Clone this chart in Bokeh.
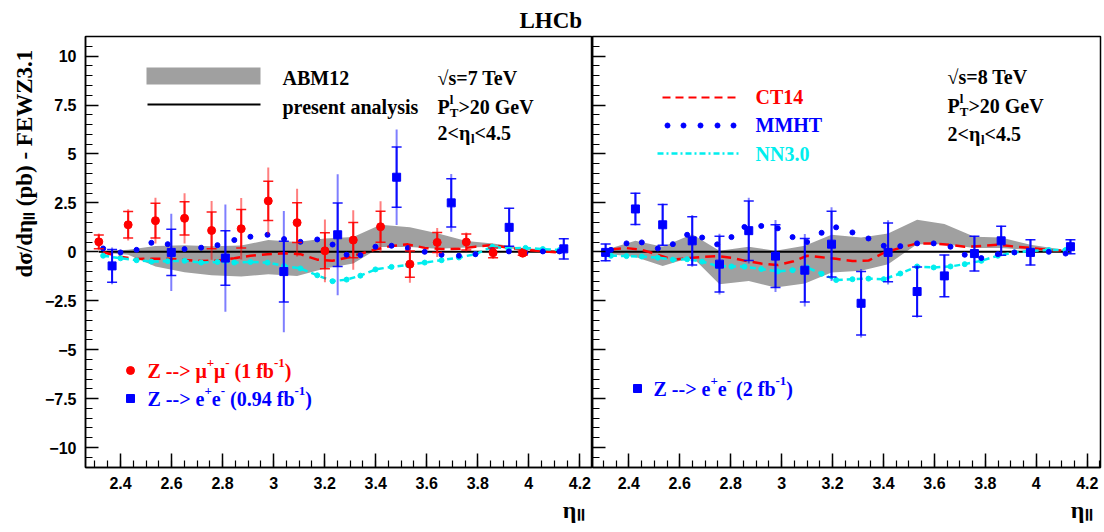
import numpy as np
from bokeh.plotting import figure
from bokeh.models import Range1d, FixedTicker, CustomJSTickFormatter, Label, Title
from bokeh.layouts import row
from bokeh.embed import file_html
from bokeh.resources import INLINE

# ---------------- left panel : sqrt(s) = 7 TeV ----------------
mu7_eta = [2.315, 2.430, 2.537, 2.651, 2.757, 2.873, 2.979, 3.092, 3.201, 3.312, 3.419, 3.534, 3.641, 3.755, 3.860, 3.976]
mu7_val = [0.51, 1.38, 1.59, 1.71, 1.09, 1.18, 2.60, 1.49, 0.05, 0.60, 1.28, -0.63, 0.48, 0.50, -0.05, -0.07]
mu7_stat = [0.35, 0.68, 0.89, 0.85, 0.94, 0.98, 1.00, 1.02, 0.92, 0.90, 0.79, 0.67, 0.51, 0.41, 0.25, 0.10]
mu7_tot = [0.43, 0.80, 1.17, 1.28, 1.50, 1.57, 1.71, 1.73, 1.60, 1.52, 1.30, 0.95, 0.74, 0.48, 0.30, 0.15]

e7_eta = [2.367, 2.599, 2.811, 3.040, 3.251, 3.482, 3.696, 3.923, 4.137]
e7_val = [-0.72, -0.03, -0.32, -1.01, 0.87, 3.81, 2.50, 1.25, 0.15]
e7_stat = [0.84, 1.18, 1.39, 1.55, 1.62, 1.54, 1.23, 0.97, 0.52]
e7_tot = [0.94, 1.97, 2.74, 3.10, 3.09, 2.44, 1.47, 1.00, 0.56]

th7_eta = [2.332, 2.400, 2.463, 2.521, 2.585, 2.651, 2.716, 2.780, 2.846, 2.909, 2.976, 3.041, 3.105, 3.171, 3.231,
           3.286, 3.340, 3.399, 3.462, 3.526, 3.592, 3.658, 3.726, 3.791, 3.857, 3.922, 3.987, 4.055, 4.120]
mmht7 = [0.17, -0.03, 0.10, 0.46, 0.39, 0.14, 0.21, 0.34, 0.60, 0.77, 0.87, 0.65, 0.51, 0.63, 0.37,
         -0.15, -0.17, 0.26, 0.31, 0.19, 0.00, -0.15, -0.20, -0.12, 0.09, 0.02, -0.05, 0.02, 0.02]
ct14_7 = [-0.02, -0.25, -0.37, -0.35, -0.35, -0.42, -0.47, -0.45, -0.33, -0.20, -0.12, -0.08, -0.12, -0.40, -0.46,
          -0.30, -0.10, 0.12, 0.30, 0.38, 0.20, 0.14, 0.15, 0.26, 0.35, 0.20, 0.10, 0.03, -0.03]
nn30_7 = [-0.20, -0.33, -0.43, -0.50, -0.48, -0.46, -0.55, -0.52, -0.55, -0.52, -0.55, -0.72, -0.85, -1.20, -1.50,
          -1.42, -1.22, -0.90, -0.77, -0.67, -0.55, -0.43, -0.29, -0.12, 0.26, 0.17, 0.20, 0.14, 0.09]

abm7_eta = [2.315, 2.430, 2.537, 2.651, 2.757, 2.873, 2.979, 3.092, 3.201, 3.312, 3.419, 3.534, 3.641, 3.755, 3.860, 3.976, 4.137]
abm7_hi = [0.00, 0.10, 0.30, 0.34, 0.28, 0.32, 0.60, 0.50, 0.68, 0.75, 1.38, 1.25, 0.95, 0.55, 0.43, 0.20, 0.05]
abm7_lo = [-0.02, -0.15, -0.75, -1.05, -1.20, -1.26, -1.15, -1.23, -0.85, -0.60, 0.25, 0.25, 0.15, 0.22, 0.26, 0.10, 0.02]

# ---------------- right panel : sqrt(s) = 8 TeV ----------------
e8_eta = [2.309, 2.426, 2.533, 2.649, 2.756, 2.871, 2.976, 3.091, 3.196, 3.312, 3.418, 3.532, 3.639, 3.757, 3.862, 3.977, 4.134]
e8_val = [-0.03, 2.19, 1.38, 0.56, -0.63, 1.08, -0.22, -0.94, 0.39, -2.63, -0.03, -2.03, -1.23, -0.09, 0.56, -0.03, 0.26]
e8_stat = [0.43, 0.80, 1.04, 1.23, 1.43, 1.52, 1.60, 1.62, 1.68, 1.62, 1.50, 1.26, 1.07, 0.89, 0.74, 0.65, 0.36]
e8_tot = [0.46, 0.84, 1.09, 1.32, 1.55, 1.68, 1.84, 1.85, 1.88, 1.75, 1.64, 1.34, 1.09, 0.91, 0.79, 0.68, 0.38]

th8_eta = [2.330, 2.391, 2.451, 2.514, 2.573, 2.629, 2.688, 2.747, 2.803, 2.854, 2.920, 2.985, 3.043, 3.100, 3.157,
           3.214, 3.278, 3.341, 3.401, 3.466, 3.532, 3.597, 3.663, 3.719, 3.784, 3.849, 3.914, 3.981, 4.049, 4.115]
mmht8 = [0.10, 0.43, 0.48, 0.17, 0.39, 0.87, 0.73, 0.38, 0.75, 1.27, 1.32, 1.20, 0.75, 0.50, 0.97,
         1.25, 0.99, 0.68, 0.31, 0.29, 0.43, 0.43, 0.26, -0.15, -0.32, -0.12, -0.03, -0.02, 0.00, -0.09]
ct14_8 = [0.12, 0.19, 0.10, -0.15, -0.40, -0.33, -0.26, -0.22, -0.30, -0.45, -0.60, -0.68, -0.50, -0.20, -0.28,
          -0.36, -0.47, -0.45, -0.05, 0.20, 0.43, 0.43, 0.35, 0.26, 0.30, 0.36, 0.27, 0.19, 0.09, 0.05]
nn30_8 = [-0.20, -0.22, -0.24, -0.30, -0.40, -0.38, -0.50, -0.72, -0.75, -0.76, -0.88, -1.00, -0.94, -0.80, -1.12,
          -1.44, -1.40, -1.37, -1.40, -1.11, -0.75, -0.80, -0.75, -0.63, -0.46, -0.20, -0.03, 0.05, 0.09, 0.09]

abm8_eta = e8_eta
abm8_hi = [0.10, 0.56, 0.26, 0.90, 0.05, 0.26, 0.05, 0.31, 0.87, 0.73, 0.94, 1.64, 1.42, 0.77, 0.73, 0.36, 0.05]
abm8_lo = [-0.10, -0.26, -0.72, -0.26, -1.66, -1.49, -1.83, -1.62, -1.06, -0.97, -0.63, 0.39, 0.39, 0.19, 0.19, 0.09, 0.00]

# ---------------- axes ----------------
x_tick_values = [2.4, 2.6, 2.8, 3.0, 3.2, 3.4, 3.6, 3.8, 4.0, 4.2]
y_tick_values = [-10, -7.5, -5, -2.5, 0, 2.5, 5, 7.5, 10]
x_minor_values = [round(2.25 + 0.05 * i, 2) for i in range(41)]
y_minor_values = [round(-11 + 0.5 * i, 1) for i in range(45)]

SERIF = "Liberation Serif"
SANS = "Liberation Sans"
RED = "#ff0000"
BLUE = "#0000ff"
CYAN = "#00eeee"
GRAY = "#a0a0a0"

# layout geometry (page pixels)
FRAME_TOP = 36
FRAME_H = 431
Y_LO, Y_HI = -11.02, 11.0


def px_to_x(side, px):
    if side == "L":
        return 2.4 + (px - 120.0) / 255.2
    return 2.4 + (px - 628.3) / 254.7


def py_to_y(py):
    return Y_HI - (py - FRAME_TOP) * (Y_HI - Y_LO) / FRAME_H


EM = {' ': .25, '(': .333, ')': .333, '-': .333, '>': .570, '<': .570, '=': .570, '.': .25,
      'Z': .667, 'e': .444, 'f': .333, 'b': .556, 'μ': .556, '+': .570, 'l': .278, 'T': .667,
      'P': .611, 'G': .778, 'V': .722, 'η': .6, 'σ': .6, 'd': .556, '/': .278, 'p': .556,
      'F': .611, 'E': .667, 'W': 1.0, 's': .389, '√': .549}


def tw(s, size):
    return sum(EM.get(c, .5) for c in s) * size


def put(p, side, px, py, text, size, color="black", align="left", angle=0.0, font=SERIF, style="bold"):
    p.add_layout(Label(x=px_to_x(side, px), y=py_to_y(py), text=text, text_font=font,
                       text_font_style=style, text_font_size=f"{size}px", text_color=color,
                       text_align=align, text_baseline="middle", angle=angle))


def rich(p, side, px, py, parts, size, color="black"):
    small = round(size * 0.65)
    for text, kind in parts:
        if kind == "n":
            lead = len(text) - len(text.lstrip(" "))
            px += tw(" " * lead, size)
            text = text.lstrip(" ")
            put(p, side, px, py, text, size, color)
            px += tw(text, size)
        elif kind == "sup":
            put(p, side, px, py - 0.36 * size, text, small, color)
            px += tw(text, small)
        elif kind == "sub":
            put(p, side, px, py + 0.30 * size, text, small, color)
            px += tw(text, small)
        else:
            sb, sp = text
            put(p, side, px, py + 0.30 * size, sb, small, color)
            put(p, side, px, py - 0.36 * size, sp, small, color)
            px += max(tw(sb, small), tw(sp, small))


tick_fmt = CustomJSTickFormatter(code="""
    if (Math.abs(tick) < 1e-9) { return '0'; }
    return (Math.round(tick * 10) / 10).toString().replace('-', '\u2212');
""")
blank_fmt = CustomJSTickFormatter(code="return '';")


def make_fig(side, frame_w, border_left, border_right, frame_left_px, frame_right_px):
    xr = Range1d(px_to_x(side, frame_left_px), px_to_x(side, frame_right_px))
    p = figure(frame_width=frame_w, frame_height=FRAME_H, x_range=xr, y_range=Range1d(Y_LO, Y_HI),
               output_backend="svg", toolbar_location=None,
               min_border_left=border_left, min_border_right=border_right, min_border_top=FRAME_TOP,
               min_border_bottom=532 - FRAME_TOP - FRAME_H)
    p.grid.visible = False
    p.outline_line_color = "black"
    p.outline_line_width = 1.5
    p.background_fill_color = "white"
    p.border_fill_color = "white"
    for ax in (p.xaxis[0], p.yaxis[0]):
        ax.axis_line_color = "black"
        ax.axis_line_width = 1.5
        ax.major_tick_line_color = "black"
        ax.minor_tick_line_color = "black"
        ax.major_tick_line_width = 1.5
        ax.minor_tick_line_width = 1.2
        ax.major_tick_out = 0
        ax.minor_tick_out = 0
        ax.formatter = tick_fmt
        ax.major_label_text_font = SANS
        ax.major_label_text_font_style = "bold"
        ax.major_label_text_font_size = "16px"
        ax.major_label_text_color = "black"
    xa = p.xaxis[0]
    xa.ticker = FixedTicker(ticks=x_tick_values, minor_ticks=x_minor_values)
    xa.major_tick_in = 14
    xa.minor_tick_in = 7
    xa.major_label_standoff = 9
    ya = p.yaxis[0]
    ya.ticker = FixedTicker(ticks=y_tick_values, minor_ticks=y_minor_values)
    ya.major_tick_in = 13
    ya.minor_tick_in = 7
    ya.major_label_standoff = 9
    # eta_ll axis title at the right end of the x axis
    p.add_layout(Title(text="ηₗₗ", align="right", offset=8, standoff=6, text_font=SERIF,
                       text_font_style="bold", text_font_size="24px", text_color="black"), "below")
    return p


def draw_panel(p, band_eta, band_lo, band_hi, th_eta, ct14, nn30, mmht, data_eta):
    p.varea(x=band_eta, y1=band_lo, y2=band_hi, fill_color=GRAY)
    p.line([min(data_eta), max(data_eta)], [0, 0], line_color="black", line_width=2)
    p.line(th_eta, ct14, line_color=RED, line_width=2.5, line_dash="10 6")
    p.line(th_eta, nn30, line_color=CYAN, line_width=2.5, line_dash="6 4")
    p.scatter(th_eta, nn30, size=5, fill_color=CYAN, line_color=CYAN)
    p.scatter(th_eta, mmht, size=5, fill_color=BLUE, line_color=BLUE)


def errbars(p, eta, val, stat, tot, color, marker):
    eta = np.array(eta)
    val = np.array(val)
    stat = np.array(stat)
    tot = np.array(tot)
    p.segment(eta, val - tot, eta, val + tot, line_color=color, line_width=2, line_alpha=0.5)
    p.segment(eta, val - stat, eta, val + stat, line_color=color, line_width=2, line_alpha=0.9)
    p.scatter(np.concatenate([eta, eta]), np.concatenate([val - stat, val + stat]), marker="dash",
              size=10, line_color=color, line_width=1.5, line_alpha=0.9)
    p.scatter(eta, val, marker=marker, size=8, fill_color=color, line_color=color)


# ---------------- left figure ----------------
p1 = make_fig("L", 507, 85, 0, 85, 592)
p1.add_layout(Title(text="LHCb", align="left", offset=434, standoff=8, text_font=SERIF,
                    text_font_style="bold", text_font_size="23px", text_color="black"), "above")
p1.add_layout(Title(text="dσ/dηₗₗ (pb) - FEWZ3.1", align="left", offset=190, standoff=10,
                    text_font=SERIF, text_font_style="bold", text_font_size="23px",
                    text_color="black"), "left")

draw_panel(p1, abm7_eta, abm7_lo, abm7_hi, th7_eta, ct14_7, nn30_7, mmht7, mu7_eta + e7_eta)
errbars(p1, e7_eta, e7_val, e7_stat, e7_tot, BLUE, "square")
errbars(p1, mu7_eta, mu7_val, mu7_stat, mu7_tot, RED, "circle")

# legend (top left)
p1.quad(left=[px_to_x("L", 146)], right=[px_to_x("L", 260)], bottom=[py_to_y(84)], top=[py_to_y(67)],
        fill_color=GRAY, line_color=None)
p1.line([px_to_x("L", 147), px_to_x("L", 260)], [py_to_y(104), py_to_y(104)], line_color="black", line_width=2)
put(p1, "L", 282, 77, "ABM12", 20)
put(p1, "L", 282, 106, "present analysis", 20)
put(p1, "L", 437, 77, "√s=7 TeV", 20)
rich(p1, "L", 437, 106, [("P", "n"), (("T", "l"), "subsup"), (">20 GeV", "n")], 20)
rich(p1, "L", 437, 132, [("2<η", "n"), ("l", "sub"), ("<4.5", "n")], 20)

# legend (bottom left)
p1.scatter([px_to_x("L", 130)], [py_to_y(370)], marker="circle", size=8, fill_color=RED, line_color=RED)
p1.scatter([px_to_x("L", 130)], [py_to_y(398)], marker="square", size=8, fill_color=BLUE, line_color=BLUE)
rich(p1, "L", 147, 370, [("Z --> μ", "n"), ("+", "sup"), ("μ", "n"), ("-", "sup"), (" (1 fb", "n"),
                         ("-1", "sup"), (")", "n")], 20, RED)
rich(p1, "L", 147, 398, [("Z --> e", "n"), ("+", "sup"), ("e", "n"), ("-", "sup"), (" (0.94 fb", "n"),
                         ("-1", "sup"), (")", "n")], 20, BLUE)

# ---------------- right figure ----------------
p2 = make_fig("R", 508, 0, 4, 592, 1100)
p2.yaxis[0].formatter = blank_fmt
p2.yaxis[0].major_label_standoff = 0
draw_panel(p2, abm8_eta, abm8_lo, abm8_hi, th8_eta, ct14_8, nn30_8, mmht8, e8_eta)
errbars(p2, e8_eta, e8_val, e8_stat, e8_tot, BLUE, "square")

put(p2, "R", 947, 76, "√s=8 TeV", 20)
rich(p2, "R", 947, 105, [("P", "n"), (("T", "l"), "subsup"), (">20 GeV", "n")], 20)
rich(p2, "R", 947, 133, [("2<η", "n"), ("l", "sub"), ("<4.5", "n")], 20)

p2.line([px_to_x("R", 662), px_to_x("R", 738)], [py_to_y(97), py_to_y(97)], line_color=RED,
        line_width=2, line_dash="8 5")
p2.scatter([px_to_x("R", v) for v in (667, 683, 700, 717, 733)], [py_to_y(125)] * 5, size=5,
           fill_color=BLUE, line_color=BLUE)
p2.line([px_to_x("R", 657), px_to_x("R", 738)], [py_to_y(153), py_to_y(153)], line_color=CYAN,
        line_width=2.5, line_dash="6 3 2 3")
put(p2, "R", 755, 96, "CT14", 20, RED)
put(p2, "R", 755, 124, "MMHT", 20, BLUE)
put(p2, "R", 755, 153, "NN3.0", 20, CYAN)

p2.scatter([px_to_x("R", 637)], [py_to_y(388)], marker="square", size=8, fill_color=BLUE, line_color=BLUE)
rich(p2, "R", 653, 388, [("Z --> e", "n"), ("+", "sup"), ("e", "n"), ("-", "sup"), (" (2 fb", "n"),
                         ("-1", "sup"), (")", "n")], 20, BLUE)

layout = row(p1, p2)
open("out.html", "w").write(file_html(layout, INLINE))
